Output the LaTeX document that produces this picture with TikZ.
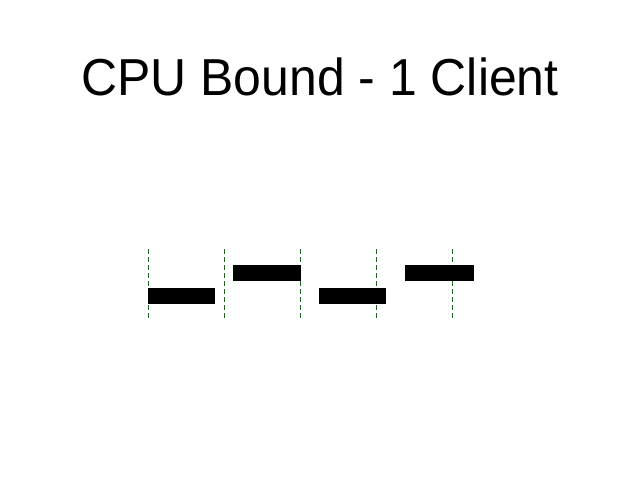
\documentclass[tikz,border=0pt]{standalone}
\usepackage{fontspec}
\setmainfont{Liberation Sans}
\begin{document}
\begin{tikzpicture}[x=1pt,y=-1pt,
  bar/.style={fill=black,draw=none},
  tick/.style={draw=green!50!black,line width=0.9pt,dash pattern=on 5pt off 3pt}]
\useasboundingbox (0,0) rectangle (638,479);
\node[anchor=base,inner sep=0pt,xscale=0.96] (title) at (320,95) {\fontsize{52}{60}\selectfont CPU Bound - 1 Client};
\foreach \i/\x in {1/148.5,2/224.5,3/300.5,4/376.5,5/452.5}{
  \coordinate (t\i) at (\x,249);
  \coordinate (b\i) at (\x,319);
  \draw[tick] (t\i) -- (b\i);
}
\node[bar,anchor=north west,minimum width=67pt,minimum height=16pt,inner sep=0pt] (r1) at (148,288) {};
\node[bar,anchor=north west,minimum width=68pt,minimum height=16pt,inner sep=0pt] (r2) at (233,265) {};
\node[bar,anchor=north west,minimum width=67pt,minimum height=16pt,inner sep=0pt] (r3) at (319,288) {};
\node[bar,anchor=north west,minimum width=69pt,minimum height=16pt,inner sep=0pt] (r4) at (405,265) {};
\end{tikzpicture}
\end{document}
